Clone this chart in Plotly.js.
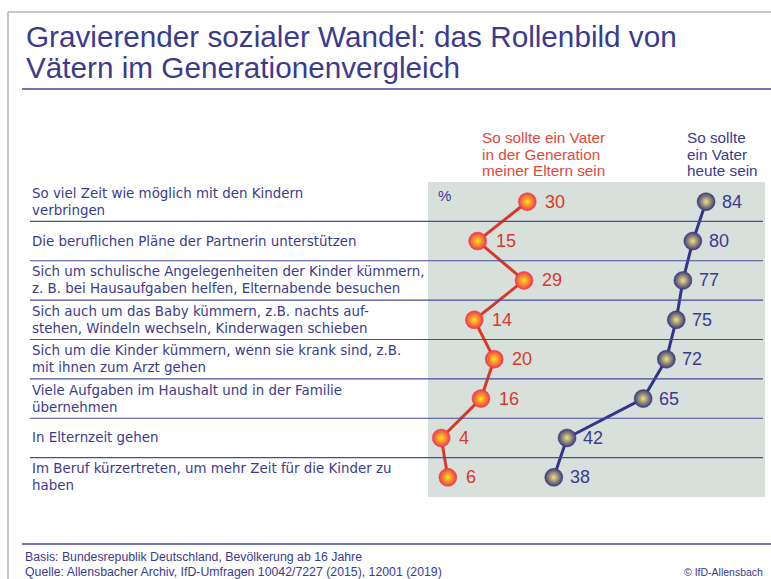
<!DOCTYPE html>
<html>
<head>
<meta charset="utf-8">
<script src="https://cdn.plot.ly/plotly-3.0.1.min.js"></script>
<style>html,body{margin:0;padding:0;background:#fff;}#chart{width:771px;height:579px;}</style>
</head>
<body>
<div id="chart"></div>
<script>
// ---- data ----
const categories = [
  "So viel Zeit wie möglich mit den Kindern<br>verbringen",
  "Die beruflichen Pläne der Partnerin unterstützen",
  "Sich um schulische Angelegenheiten der Kinder kümmern,<br>z. B. bei Hausaufgaben helfen, Elternabende besuchen",
  "Sich auch um das Baby kümmern, z.B. nachts auf-<br>stehen, Windeln wechseln, Kinderwagen schieben",
  "Sich um die Kinder kümmern, wenn sie krank sind, z.B.<br>mit ihnen zum Arzt gehen",
  "Viele Aufgaben im Haushalt und in der Familie<br>übernehmen",
  "In Elternzeit gehen",
  "Im Beruf kürzertreten, um mehr Zeit für die Kinder zu<br>haben"
];
const parentsGen = [30, 15, 29, 14, 20, 16, 4, 6];
const today = [84, 80, 77, 75, 72, 65, 42, 38];
const seriesNames = ["So sollte ein Vater<br>in der Generation<br>meiner Eltern sein", "So sollte<br>ein Vater<br>heute sein"];
const titleLines = ["Gravierender sozialer Wandel: das Rollenbild von", "Vätern im Generationenvergleich"];
const footnotes = ["Basis: Bundesrepublik Deutschland, Bevölkerung ab 16 Jahre",
                   "Quelle: Allensbacher Archiv, IfD-Umfragen 10042/7227 (2015), 12001 (2019)"];
const copyright = "© IfD-Allensbach";

// ---- layout helpers ----
const W = 771, H = 579;
const px = v => v / W;
const py = v => 1 - v / H;
const FONT = "Liberation Sans, Arial, sans-serif";
const LABELFONT = "DejaVu Sans, Liberation Sans, sans-serif";
const BLUE = "#3b3b8e";
const RED = "#d9392c";
const idx = categories.map((_, i) => i);

const traces = [
  {
    x: parentsGen, y: idx, type: "scatter", mode: "lines+markers",
    line: {color: "#d8392b", width: 3},
    marker: {size: 18, color: "#f0364c", gradient: {type: "radial", color: "#ffe31a"},
             line: {color: "#ee3a50", width: 0.5}},
    hoverinfo: "skip", showlegend: false
  },
  {
    x: today, y: idx, type: "scatter", mode: "lines+markers",
    line: {color: "#33358c", width: 3},
    marker: {size: 18, color: "#3a3a7c", gradient: {type: "radial", color: "#f4e27a"},
             line: {color: "#35357a", width: 0.5}},
    hoverinfo: "skip", showlegend: false
  }
];

const annotations = [];
// title
titleLines.forEach((t, i) => annotations.push({
  xref: "paper", yref: "paper", x: px(24), y: py(36 + i * 31), xanchor: "left", yanchor: "middle",
  text: t, showarrow: false, font: {family: FONT, size: 29.7, color: BLUE}
}));
// row labels (each line placed separately for tight line spacing)
categories.forEach((c, i) => {
  const lines = c.split("<br>");
  lines.forEach((ln, k) => {
    const shift = lines.length === 1 ? 0 : (k === 0 ? 8.5 : -8.5);
    annotations.push({
      xref: "paper", yref: "y", x: px(30), y: i, yshift: shift, xanchor: "left", yanchor: "middle",
      text: ln, showarrow: false, font: {family: LABELFONT, size: 13.4, color: BLUE}
    });
  });
});
// value labels
parentsGen.forEach((v, i) => annotations.push({
  xref: "x", yref: "y", x: v, y: i, xanchor: "left", yanchor: "middle", xshift: 16,
  text: String(v), showarrow: false, font: {family: FONT, size: 18, color: RED}
}));
today.forEach((v, i) => annotations.push({
  xref: "x", yref: "y", x: v, y: i, xanchor: "left", yanchor: "middle", xshift: 14,
  text: String(v), showarrow: false, font: {family: FONT, size: 18, color: BLUE}
}));
// series headers
const headerX = [480, 685];
const headerColor = ["#e0493a", BLUE];
seriesNames.forEach((s, j) => {
  s.split("<br>").forEach((ln, k) => annotations.push({
    xref: "paper", yref: "paper", x: px(headerX[j]), y: py(138 + k * 16), xanchor: "left", yanchor: "middle",
    text: ln, showarrow: false, font: {family: FONT, size: 15.3, color: headerColor[j]}
  }));
});
// percent sign
annotations.push({xref: "paper", yref: "paper", x: px(436), y: py(196), xanchor: "left", yanchor: "middle",
  text: "%", showarrow: false, font: {family: FONT, size: 15, color: BLUE}});
// footnotes
footnotes.forEach((t, i) => annotations.push({
  xref: "paper", yref: "paper", x: px(23), y: py(557 + i * 15), xanchor: "left", yanchor: "middle",
  text: t, showarrow: false, font: {family: FONT, size: 12.3, color: BLUE}
}));
annotations.push({xref: "paper", yref: "paper", x: px(765), y: py(572), xanchor: "right", yanchor: "middle",
  text: copyright, showarrow: false, font: {family: FONT, size: 10.5, color: BLUE}});

const shapes = [
  // frame
  {type: "line", xref: "paper", yref: "paper", x0: px(8), x1: 1, y0: py(12), y1: py(12), line: {color: "#b5b5b5", width: 1.5}},
  {type: "line", xref: "paper", yref: "paper", x0: px(8), x1: px(8), y0: py(12), y1: 0, line: {color: "#b5b5b5", width: 1.5}},
  // title underline
  {type: "line", xref: "paper", yref: "paper", x0: px(22), x1: 1, y0: py(89), y1: py(89), line: {color: "#4545a0", width: 1.5}},
  // footer line
  {type: "line", xref: "paper", yref: "paper", x0: px(22), x1: 1, y0: py(544), y1: py(544), line: {color: "#4545a0", width: 1.5}}
];
for (let i = 0; i < categories.length - 1; i++) {
  shapes.push({type: "line", xref: "paper", yref: "y", x0: px(30), x1: px(763), y0: i + 0.5, y1: i + 0.5,
               line: {color: "#4a4a9c", width: 1.2}, layer: "above"});
}

const layout = {
  width: W, height: H,
  margin: {l: 0, r: 0, t: 0, b: 0},
  paper_bgcolor: "#ffffff",
  plot_bgcolor: "#d8e0dc",
  xaxis: {domain: [px(428), px(765)], range: [0, 101.8], visible: false, fixedrange: true},
  yaxis: {domain: [py(497), py(182)], range: [7.5, -0.5], visible: false, fixedrange: true},
  annotations: annotations,
  shapes: shapes,
  showlegend: false
};

Plotly.newPlot("chart", traces, layout, {displayModeBar: false, staticPlot: true});
</script>
</body>
</html>
